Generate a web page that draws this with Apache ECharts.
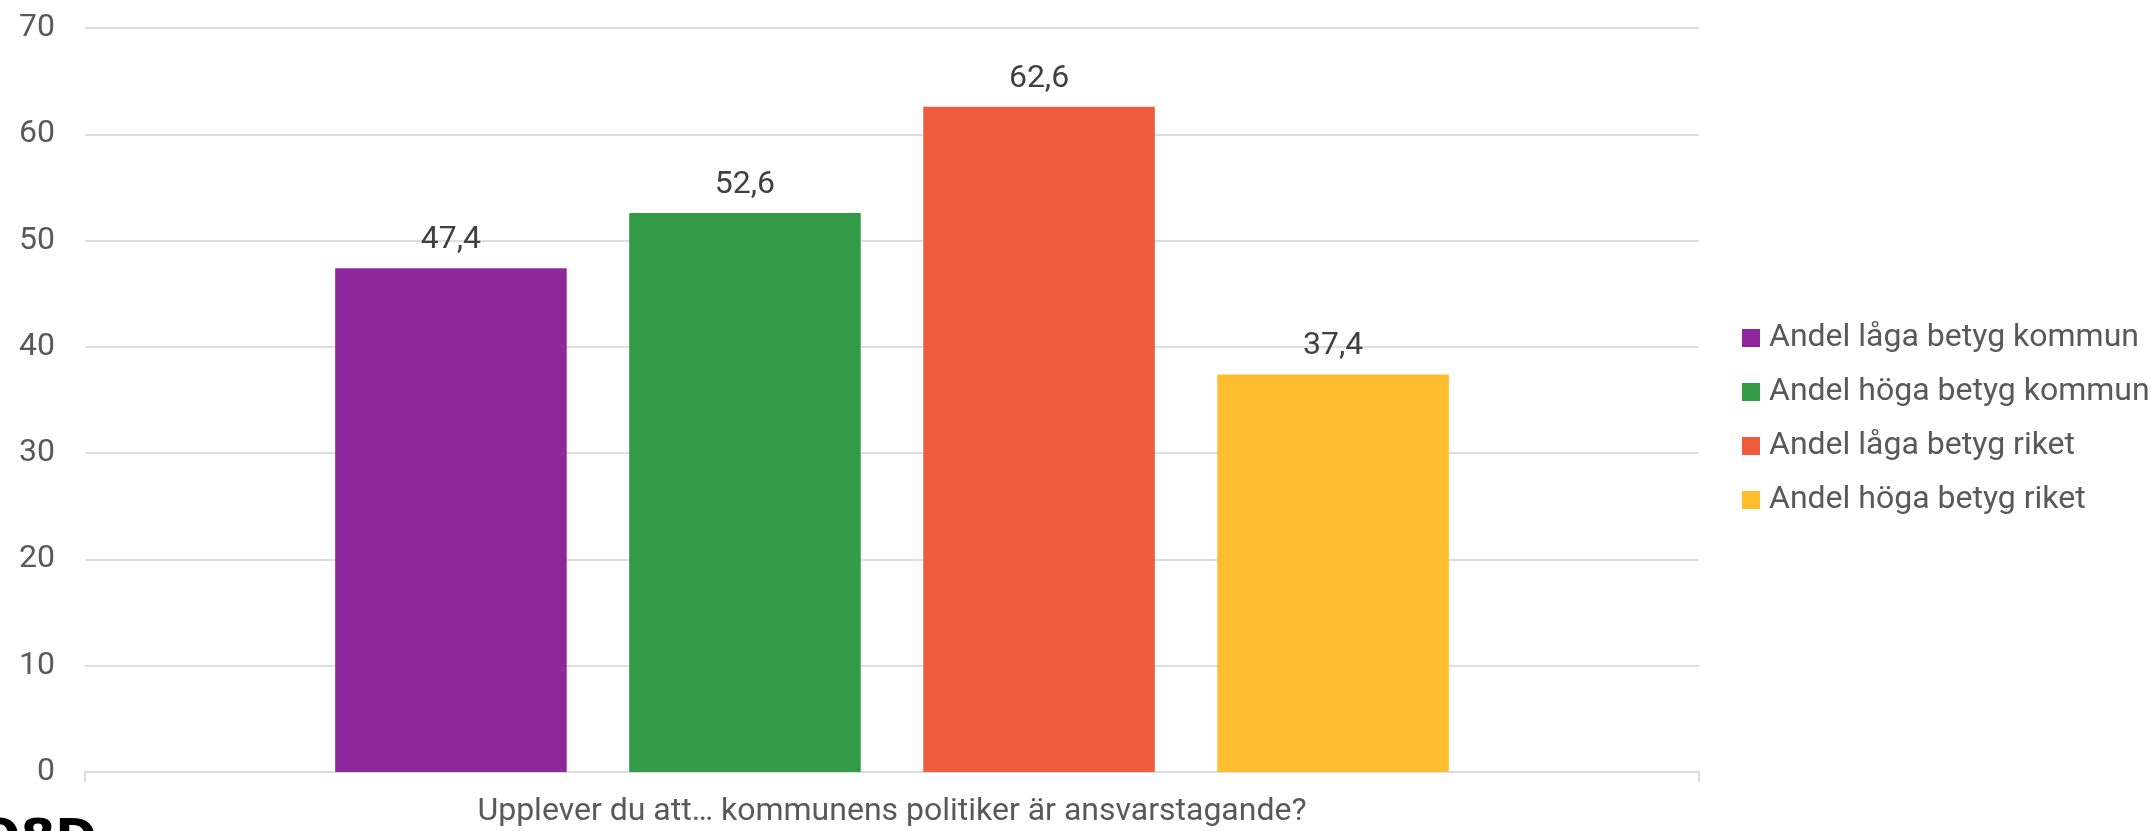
<!DOCTYPE html>
<html lang="sv">
<head>
    <meta charset="UTF-8">
    <title>Ansvarstagande politiker</title>
    <style>
        body,html{
            height: 100%;
            width: 100%;
            margin: 0;
            background: #fff;
        }
    </style>
</head>
<body>

<div id="main" style="height: 831px; width: 2151px;"></div>
<script src="https://cdn.jsdelivr.net/npm/echarts@6/dist/echarts.min.js"></script>
<script>
    var categories = ['Upplever du att… kommunens politiker är ansvarstagande?'];
    var seriesNames = ['Andel låga betyg kommun', 'Andel höga betyg kommun', 'Andel låga betyg riket', 'Andel höga betyg riket'];
    var seriesValues = [[47.4], [52.6], [62.6], [37.4]];
    var seriesColors = ['#8e279b', '#339b47', '#ef5b3d', '#febd2f'];
    var yTicks = [0, 10, 20, 30, 40, 50, 60, 70];

    var myChart = echarts.init(document.getElementById('main'));

    var font = 'Roboto, "Noto Sans", sans-serif';

    myChart.setOption({
        animation: false,
        textStyle: { fontFamily: font },
        grid: {
            left: 85,
            right: 452,
            top: 28,
            bottom: 59,
            containLabel: false
        },
        legend: {
            orient: 'vertical',
            left: 1742,
            top: 322,
            padding: 0,
            itemWidth: 18,
            itemHeight: 18,
            itemGap: 22,
            icon: 'rect',
            textStyle: {
                fontSize: 32,
                color: '#595959',
                fontFamily: font,
                padding: [0, 0, 0, 4]
            },
            data: seriesNames
        },
        xAxis: {
            type: 'category',
            data: categories,
            axisLine: { lineStyle: { color: '#dcdcdc', width: 2 } },
            axisTick: { show: true, length: 10, lineStyle: { color: '#dcdcdc', width: 2 } },
            axisLabel: {
                fontSize: 32,
                color: '#595959',
                margin: 24,
                fontFamily: font
            }
        },
        yAxis: {
            type: 'value',
            min: yTicks[0],
            max: yTicks[yTicks.length - 1],
            interval: 10,
            axisLine: { show: false },
            axisTick: { show: false },
            splitLine: { lineStyle: { color: '#dedede', width: 2 } },
            axisLabel: {
                fontSize: 32,
                color: '#595959',
                margin: 30,
                fontFamily: font
            }
        },
        graphic: [
            {
                // cut-off logo at the bottom edge
                type: 'text',
                left: -22,
                top: 816,
                style: {
                    text: 'O8D',
                    font: 'bold 50px "DejaVu Sans"',
                    fill: '#000'
                }
            }
        ],
        series: seriesNames.map(function (name, i) {
            return {
                name: name,
                type: 'bar',
                data: seriesValues[i],
                barGap: '27%',
                barCategoryGap: '31%',
                itemStyle: { color: seriesColors[i] },
                label: {
                    show: true,
                    position: 'top',
                    distance: 12,
                    fontSize: 32,
                    color: '#404040',
                    fontFamily: font,
                    formatter: function (p) {
                        return String(p.value).replace('.', ',');
                    }
                }
            };
        })
    });
</script>
</body>
</html>
